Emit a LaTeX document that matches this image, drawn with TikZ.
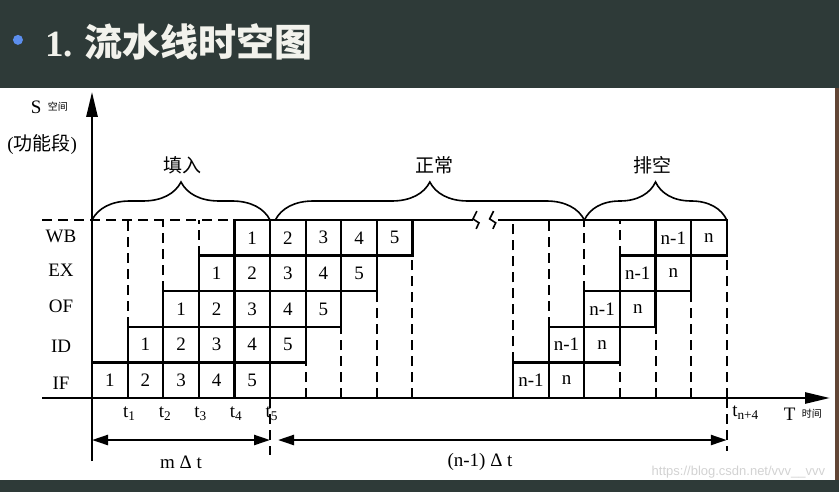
\documentclass[tikz,border=0pt]{standalone}
\usepackage{fontspec}
\setmainfont{Liberation Serif}
\newfontfamily\cjk{Noto Sans CJK SC}
\newfontfamily\wmfont{Liberation Sans}
\usetikzlibrary{arrows.meta,positioning,decorations.pathreplacing}
\definecolor{SlideDark}{RGB}{46,58,56}
\definecolor{BulletBlue}{RGB}{92,142,238}
\definecolor{TitleWhite}{RGB}{242,242,236}
\definecolor{EdgeBrown}{RGB}{98,70,54}

\begin{document}
\begin{tikzpicture}[x=35.6pt, y=35.6pt, every node/.style={font=\fontsize{19}{22}\selectfont, inner sep=0pt},
  cell/.style={draw, line width=2.2pt, minimum size=35.6pt, outer sep=0pt, anchor=south west},
  guide/.style={line width=2pt, dash pattern=on 10pt off 6pt},
  stage/.style={decorate, decoration={brace, amplitude=38pt}, line width=1.6pt},
  span/.style={line width=2.4pt, {Triangle[length=16pt,width=10pt]}-{Triangle[length=16pt,width=10pt]}},
  cn/.style={font=\cjk\fontsize{19}{22}\selectfont},
  tiny/.style={font=\cjk\fontsize{10}{12}\selectfont}]
\def\R{11.83}
\useasboundingbox (-2.5843,-2.6404) rectangle (20.983,11.1798);

% slide frame
\fill[SlideDark] (-2.5843,8.708) rectangle (20.983,11.1798);
\fill[SlideDark] (-2.5843,-2.303) rectangle (20.983,-2.6404);
\fill[EdgeBrown] (20.87,-2.303) rectangle (20.983,8.708);
\node[circle, fill=BulletBlue, minimum size=10pt] (dot) at (-2.08,10.06) {};
\node[anchor=west, text=TitleWhite, font=\fontsize{37}{42}\selectfont\bfseries] (title) at (-1.32,10.0) {1.\hspace{12pt}{\cjk\fontsize{38}{42}\selectfont 流水线时空图}};

% axes
\draw[line width=2.6pt, -{Triangle[length=25pt,width=11pt]}] (-1.4,0) -- (20.73,0);
\draw[line width=2.6pt, -{Triangle[length=25pt,width=11pt]}] (0,-1.77) -- (0,8.6);

% top line with break
\draw[guide] (-1.4,5) -- (5,5);
\draw[line width=2.2pt] (5,5) -- (10.70,5);
\draw[line width=2.2pt] (11.40,5) -- (\R+6,5);
\foreach \d in {0,0.47}
  \draw[line width=1.6pt] (10.81+\d,5.25) -- (10.70+\d,5.03) -- (10.87+\d,4.92) -- (10.79+\d,4.75);

% filling cells
\foreach \r in {0,...,4}
  \foreach \k in {1,...,5}
    \node[cell] (a\r\k) at (\r+\k-1,\r) {\k};

% draining cells
\foreach \r in {0,...,4} {
  \node[cell] (m\r) at (\R+\r,\r) {n-1};
  \node[cell] (n\r) at (\R+\r+1,\r) {n};
}

% dashed time lines
\foreach \r in {1,2,3}
  \draw[guide] (\r,\r+1) -- (\r,5);
\foreach \r in {0,...,3}
  \draw[guide] (\R+\r,\r+1) -- (\R+\r,5);
\foreach \r in {1,...,4} {
  \draw[guide] (5+\r,0) -- (5+\r,\r);
  \draw[guide] (\R+2+\r,0) -- (\R+2+\r,\r);
}
\draw[guide] (5,0) -- (5,-1.6);
\draw[guide] (\R+6,0) -- (\R+6,-1.5);

% braces
\draw[stage] (0,5) -- (5,5);
\draw[stage] (5.15,5) -- (\R+2,5);
\draw[stage] (\R+2,5) -- (\R+6,5);
\node[cn] (fill) at (2.53,6.54) {填入};
\node[cn] (norm) at (9.63,6.54) {正常};
\node[cn] (drain) at (15.73,6.54) {排空};

% stage labels
\node (s) at (-1.57,8.17) {S};
\node[tiny, right=6pt of s] (sp) {空间};
\node (fu) at (-1.40,7.11) {({\cjk 功能段})};
\node (wb) at (-0.87,4.55) {WB};
\node (ex) at (-0.87,3.60) {EX};
\node (of) at (-0.87,2.58) {OF};
\node (id) at (-0.87,1.45) {ID};
\node (if) at (-0.87,0.40) {IF};

% time labels
\foreach \k in {1,...,5}
  \node (t\k) at (\k+0.05,-0.45) {t\textsubscript{\k}};
\node[anchor=west] (tn) at (\R+6.15,-0.42) {t\textsubscript{n+4}};
\node (T) at (19.6,-0.45) {T};
\node[tiny, right=6pt of T] (tm) {时间};

% intervals
\coordinate (d0) at (0,-1.18);
\coordinate (d5) at (5,-1.18);
\coordinate (dn) at (\R+6,-1.18);
\draw[span] (d0) -- (d5);
\draw[span, shorten <=8pt] (d5) -- (dn);
\node (mdt) at (2.5,-1.80) {m Δ t};
\node (ndt) at (10.9,-1.80) {(n-1) Δ t};

\node[anchor=east, text=gray!35, font=\wmfont\fontsize{13}{15}\selectfont] (wm) at (20.6,-2.07) {https://blog.csdn.net/vvv\_\_vvv};
\end{tikzpicture}
\end{document}
